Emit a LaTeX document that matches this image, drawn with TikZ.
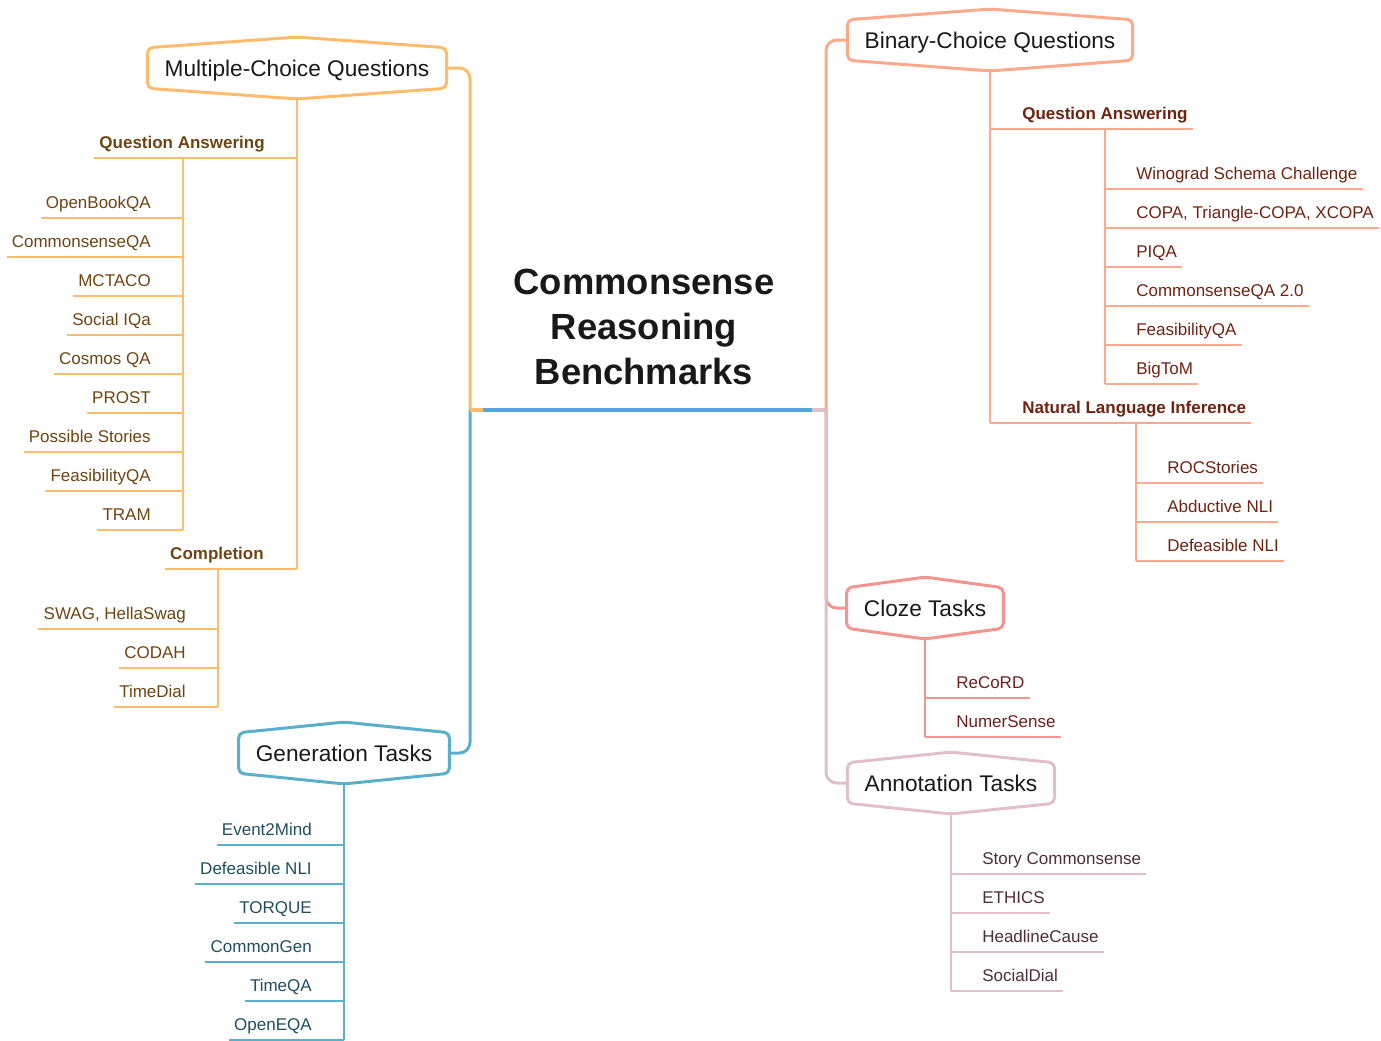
\documentclass[tikz,border=0pt]{standalone}
\usepackage{fontspec}
\setmainfont{Liberation Sans}
\definecolor{mcqline}{HTML}{FDBB6C}
\definecolor{mcqtext}{HTML}{6E4412}
\definecolor{bcqline}{HTML}{FDA98C}
\definecolor{bcqtext}{HTML}{6E2311}
\definecolor{clzline}{HTML}{F2958F}
\definecolor{clztext}{HTML}{6B1F1F}
\definecolor{annline}{HTML}{DFC0CA}
\definecolor{anntext}{HTML}{4E2D37}
\definecolor{genline}{HTML}{5AB0C9}
\definecolor{gentext}{HTML}{1F4E5E}
\definecolor{midline}{HTML}{53A6D9}
\newcommand{\leaffont}{\fontsize{12.75pt}{15pt}\selectfont}
\newcommand{\catfont}{\fontsize{12.75pt}{15pt}\selectfont\bfseries}
\newcommand{\hexfont}{\fontsize{17pt}{20pt}\selectfont}
\newcommand{\titlefont}{\fontsize{27.3pt}{34pt}\selectfont\bfseries}
% hexagon frame round a category node
\newcommand{\hexframe}[2]{%
	\draw[#2,line width=2.25pt,rounded corners=4pt]
	(#1.north west) -- ([yshift=8pt]#1.north) -- (#1.north east)
	-- (#1.south east) -- ([yshift=-8pt]#1.south) -- (#1.south west) -- cycle ;}
\begin{document}
\begin{tikzpicture}[x=0.75pt,y=-0.75pt,
	leaf/.style={font=\leaffont,inner xsep=3.75pt,inner ysep=7.2pt,text depth=0pt},
	cat/.style={leaf,font=\catfont,inner ysep=6.7pt},
	hexnode/.style={font=\hexfont,text=black!90,inner xsep=12.75pt,text height=12.2pt,text depth=0pt,minimum height=30pt},
	tree/.style={line width=2pt},
	link/.style={line width=2.25pt,rounded corners=8pt}]
	\useasboundingbox (0,0) rectangle (1381,1040) ;
	% title and centre bar
	\node[align=center,font=\titlefont,text=black!90] (title) at (644,327) {Commonsense\\Reasoning\\Benchmarks} ;
	\coordinate (L) at (470,410) ;
	\coordinate (Lb) at (483,410) ;
	\coordinate (Rb) at (812,410) ;
	\coordinate (R) at (826,410) ;
	% category boxes
	\node[hexnode] (mcq) at (297,68) {Multiple-Choice Questions} ;
	\node[hexnode] (bcq) at (990,40) {Binary-Choice Questions} ;
	\node[hexnode] (clz) at (925,608) {Cloze Tasks} ;
	\node[hexnode] (ann) at (951,783) {Annotation Tasks} ;
	\node[hexnode] (gen) at (344,753) {Generation Tasks} ;
	\hexframe{mcq}{mcqline}
	\hexframe{bcq}{bcqline}
	\hexframe{clz}{clzline}
	\hexframe{ann}{annline}
	\hexframe{gen}{genline}
	\draw[link,mcqline] (L) |- (mcq.east) ;
	\draw[link,genline] (L) |- (gen.east) ;
	\draw[link,bcqline] (R) |- (bcq.west) ;
	\draw[link,clzline] (R) |- (clz.west) ;
	\draw[link,annline] (R) |- (ann.west) ;
	\draw[line width=3pt,mcqline] (L) -- (Lb) ;
	\draw[line width=3pt,midline] (Lb) -- (Rb) ;
	\draw[line width=3pt,annline] (Rb) -- (R) ;
	% multiple-choice questions
	\coordinate (mqa) at (183,0) ;
	\coordinate (mco) at (218,0) ;
	\node[cat,anchor=south east,text=mcqtext] (mqacat) at (270,158) {Question Answering} ;
	\node[cat,anchor=south east,text=mcqtext] (mcocat) at (269,569) {Completion} ;
	\draw[tree,mcqline] ([yshift=-8pt]mcq.south) -- (mcocat.south east -| mcq.south) ;
	\draw[tree,mcqline] (mqacat.south west) -- (mqacat.south west -| mcq.south) ;
	\draw[tree,mcqline] (mcocat.south west) -- (mcocat.south west -| mcq.south) ;
	\foreach \txt [count=\i] in {OpenBookQA,CommonsenseQA,MCTACO,Social IQa,Cosmos QA,PROST,Possible Stories,FeasibilityQA,TRAM}
	{
		\node[leaf,anchor=south east,text=mcqtext] (mq\i) at (156,179+39*\i) {\txt} ;
		\draw[tree,mcqline] (mq\i.south west) -- (mq\i.south west -| mqa) ;
	}
	\draw[tree,mcqline] (mqacat.south -| mqa) -- (mq9.south -| mqa) ;
	\foreach \txt [count=\i] in {{SWAG, HellaSwag},CODAH,TimeDial}
	{
		\node[leaf,anchor=south east,text=mcqtext] (mc\i) at (191,590+39*\i) {\txt} ;
		\draw[tree,mcqline] (mc\i.south west) -- (mc\i.south west -| mco) ;
	}
	\draw[tree,mcqline] (mcocat.south -| mco) -- (mc3.south -| mco) ;
	% binary-choice questions
	\coordinate (bqa) at (1105,0) ;
	\coordinate (bnl) at (1136,0) ;
	\node[cat,anchor=south west,text=bcqtext] (bqacat) at (1017,129) {Question Answering} ;
	\node[cat,anchor=south west,text=bcqtext] (bnlcat) at (1017,423) {Natural Language Inference} ;
	\draw[tree,bcqline] ([yshift=-8pt]bcq.south) -- (bnlcat.south west -| bcq.south) ;
	\draw[tree,bcqline] (bqacat.south east) -- (bqacat.south east -| bcq.south) ;
	\draw[tree,bcqline] (bnlcat.south east) -- (bnlcat.south east -| bcq.south) ;
	\foreach \txt [count=\i] in {{Winograd Schema Challenge},{COPA, Triangle-COPA, XCOPA},PIQA,{CommonsenseQA 2.0},FeasibilityQA,BigToM}
	{
		\node[leaf,anchor=south west,text=bcqtext] (bq\i) at (1131,150+39*\i) {\txt} ;
		\draw[tree,bcqline] (bq\i.south east) -- (bq\i.south east -| bqa) ;
	}
	\draw[tree,bcqline] (bqacat.south -| bqa) -- (bq6.south -| bqa) ;
	\foreach \txt [count=\i] in {ROCStories,Abductive NLI,Defeasible NLI}
	{
		\node[leaf,anchor=south west,text=bcqtext] (bn\i) at (1162,444+39*\i) {\txt} ;
		\draw[tree,bcqline] (bn\i.south east) -- (bn\i.south east -| bnl) ;
	}
	\draw[tree,bcqline] (bnlcat.south -| bnl) -- (bn3.south -| bnl) ;
	% cloze tasks
	\foreach \txt [count=\i] in {ReCoRD,NumerSense}
	{
		\node[leaf,anchor=south west,text=clztext] (cz\i) at (951,659+39*\i) {\txt} ;
		\draw[tree,clzline] (cz\i.south east) -- (cz\i.south east -| clz.south) ;
	}
	\draw[tree,clzline] ([yshift=-8pt]clz.south) -- (cz2.south -| clz.south) ;
	% annotation tasks
	\foreach \txt [count=\i] in {Story Commonsense,ETHICS,HeadlineCause,SocialDial}
	{
		\node[leaf,anchor=south west,text=anntext] (an\i) at (977,835+39*\i) {\txt} ;
		\draw[tree,annline] (an\i.south east) -- (an\i.south east -| ann.south) ;
	}
	\draw[tree,annline] ([yshift=-8pt]ann.south) -- (an4.south -| ann.south) ;
	% generation tasks
	\foreach \txt [count=\i] in {Event2Mind,Defeasible NLI,TORQUE,CommonGen,TimeQA,OpenEQA}
	{
		\node[leaf,anchor=south east,text=gentext] (gn\i) at (317,806+39*\i) {\txt} ;
		\draw[tree,genline] (gn\i.south west) -- (gn\i.south west -| gen.south) ;
	}
	\draw[tree,genline] ([yshift=-8pt]gen.south) -- (gn6.south -| gen.south) ;
\end{tikzpicture}
\end{document}
